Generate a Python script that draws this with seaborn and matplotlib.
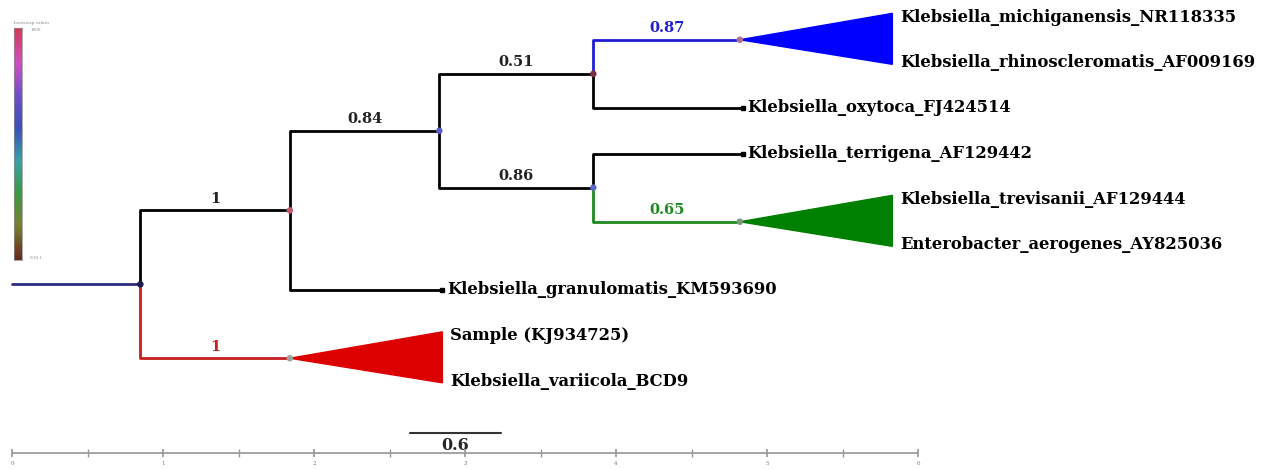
import numpy as np
import pandas as pd
import matplotlib.pyplot as plt
from matplotlib.colors import LinearSegmentedColormap
import seaborn as sns

sns.set_theme(style="white")
plt.rcParams['font.family'] = ['DejaVu Serif', 'Liberation Serif']

# leaves, top to bottom
leaf_names = ["Klebsiella_michiganensis_NR118335", "Klebsiella_rhinoscleromatis_AF009169",
              "Klebsiella_oxytoca_FJ424514", "Klebsiella_terrigena_AF129442",
              "Klebsiella_trevisanii_AF129444", "Enterobacter_aerogenes_AY825036",
              "Klebsiella_granulomatis_KM593690", "Sample (KJ934725)", "Klebsiella_variicola_BCD9"]

# tree nodes (depth = distance from root)
node_ids = ["root", "n1", "n2", "red", "n3", "gran", "n4", "n5", "blue", "oxy", "terr", "green"]
node_parent = [None, "root", "n1", "n1", "n2", "n2", "n3", "n3", "n4", "n4", "n5", "n5"]
node_depth = [0.0, 0.85, 1.84, 1.84, 2.83, 2.85, 3.85, 3.85, 4.82, 4.84, 4.84, 4.82]
node_support = ["", "", "1", "1", "0.84", "", "0.51", "0.86", "0.87", "", "", "0.65"]
branch_color = ["#2b2b80", "#2b2b80", "black", "#c41e1e", "black", "black", "black", "black",
                "#1f1fd0", "black", "black", "#1e8a1e"]
dot_color = ["#2b2b80", "#1c1c50", "#c85a6e", "#a0a0a0", "#5a5ac8", "black", "#7a3040",
             "#5a6ac8", "#b07090", "black", "black", "#7a9a7a"]

# leaves per terminal node and collapsed clades
tip_leaves = {"gran": [6], "oxy": [2], "terr": [3], "blue": [0, 1], "green": [4, 5], "red": [7, 8]}
clade_tip = {"blue": 5.83, "green": 5.83, "red": 2.85}
clade_fill = {"blue": "#0000ff", "green": "#008000", "red": "#dd0000"}

scale_ticks = [0, 1, 2, 3, 4, 5, 6]
scale_bar = 0.6

# ---------------------------------------------------------------
ypos = {}
for n, lv in tip_leaves.items():
    ypos[n] = np.mean(lv)
children = {}
for n, p in zip(node_ids, node_parent):
    children.setdefault(p, []).append(n)
def get_y(n):
    if n not in ypos:
        ypos[n] = np.mean([get_y(c) for c in children[n]])
    return ypos[n]
for n in node_ids:
    get_y(n)
ypos["root"] = ypos["n1"]
depth = dict(zip(node_ids, node_depth))

rows = []
for i, (n, p) in enumerate(zip(node_ids, node_parent)):
    if p is None:
        continue
    rows.append({"seg": n, "x": depth[p], "y": ypos[p], "c": branch_color[i]})
    rows.append({"seg": n, "x": depth[p], "y": ypos[n], "c": branch_color[i]})
    rows.append({"seg": n, "x": depth[n], "y": ypos[n], "c": branch_color[i]})
seg_df = pd.DataFrame(rows)

W, H = 1263, 470
fig = plt.figure(figsize=(W / 100, H / 100), dpi=100)
ax = fig.add_axes([0, 0, 1, 1])
px_x0, px_unit = 12, 151
py_0, py_unit = 17, 45.5
ax.set_xlim(-px_x0 / px_unit, (W - px_x0) / px_unit)
ax.set_ylim((H - py_0) / py_unit, -py_0 / py_unit)
ax.axis("off")

pal = {n: c for n, c in zip(node_ids, branch_color)}
sns.lineplot(data=seg_df, x="x", y="y", hue="seg", units="seg", estimator=None, sort=False,
             palette=pal, linewidth=2.0, legend=False, ax=ax)

lab_fs = 11.8
# collapsed clades
for n, lv in tip_leaves.items():
    if n in clade_tip:
        top, bot = lv[0] - 0.08, lv[-1] + 0.04
        ax.fill([depth[n], clade_tip[n], clade_tip[n]], [ypos[n], top, bot],
                color=clade_fill[n], zorder=2)
        for l in lv:
            ax.text(clade_tip[n] + 0.05, l, leaf_names[l], fontsize=lab_fs, fontweight="bold",
                    ha="left", va="center", color="black")
    else:
        l = lv[0]
        ax.plot(depth[n], l, marker="s", ms=3.5, color="black")
        ax.text(depth[n] + 0.03, l, leaf_names[l], fontsize=lab_fs, fontweight="bold",
                ha="left", va="center", color="black")

# node dots
keep = [n for n in node_ids if (n in children or n in clade_tip) and depth[n] > 0]
dot_df = pd.DataFrame({"x": [depth[n] for n in keep], "y": [ypos[n] for n in keep],
                       "c": [dot_color[node_ids.index(n)] for n in keep]})
sns.scatterplot(data=dot_df, x="x", y="y", c=dot_df["c"], s=22, edgecolor="none", ax=ax, zorder=4)

# support values
for i, n in enumerate(node_ids):
    if node_support[i]:
        p = node_parent[i]
        tc = branch_color[i] if branch_color[i] != "black" else "#222222"
        ax.text((depth[p] + depth[n]) / 2, ypos[n] - 0.1, node_support[i], fontsize=10.5,
                fontweight="bold", ha="center", va="bottom", color=tc)

# scale bar
sx0 = (410 - px_x0) / px_unit
ax.plot([sx0, sx0 + scale_bar], [(433 - py_0) / py_unit] * 2, color="#333333", lw=1.5)
ax.text(sx0 + scale_bar / 2, (445 - py_0) / py_unit, str(scale_bar), fontsize=11.5,
        fontweight="bold", ha="center", va="center")

# scale axis
sax = fig.add_axes([0, 1 - 453 / H, 1, 0.01])
sax.set_xlim(ax.get_xlim())
sax.patch.set_alpha(0)
for s in ["top", "left", "right"]:
    sax.spines[s].set_visible(False)
sax.spines["bottom"].set_color("#999999")
sax.spines["bottom"].set_bounds(scale_ticks[0], scale_ticks[-1])
sax.set_yticks([])
sax.set_xticks(scale_ticks)
sax.set_xticks(np.arange(scale_ticks[0], scale_ticks[-1], 0.5), minor=True)
sax.set_xticklabels([str(t) for t in scale_ticks])
sax.tick_params(axis="x", which="both", direction="inout", length=6, color="#999999",
                labelsize=4, labelcolor="#777777", pad=3, bottom=True)

# bootstrap colour legend
cmap = LinearSegmentedColormap.from_list("bs", ["#d43a5a", "#d050c0", "#7050c8", "#3c50b8",
                                                "#3ca0a8", "#3c9a48", "#7a8030", "#6a2a20"])
cax = fig.add_axes([14 / W, 1 - 260 / H, 8 / W, 232 / H])
cax.imshow(np.linspace(0, 1, 100)[:, None], aspect="auto", cmap=cmap)
cax.set_xticks([])
cax.set_yticks([])
for s in cax.spines.values():
    s.set_color("#888888")
    s.set_linewidth(0.5)
fig.text(14 / W, 1 - 24 / H, "bootstrap values", fontsize=3, color="#888888")
fig.text(30 / W, 1 - 30 / H, "1000", fontsize=3, color="#888888", va="center")
fig.text(30 / W, 1 - 258 / H, "0.10.1", fontsize=3, color="#888888", va="center")

fig.savefig("out.png", dpi=100, facecolor="white")
